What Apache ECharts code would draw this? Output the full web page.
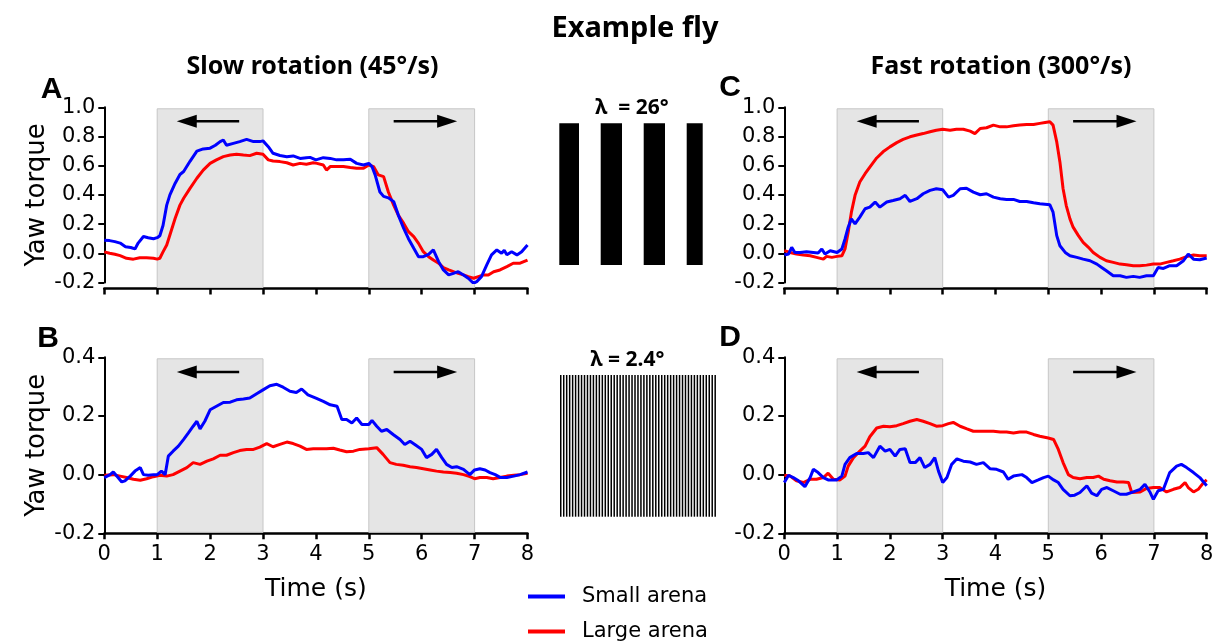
<!DOCTYPE html>
<html><head><meta charset="utf-8">
<script src="https://cdn.jsdelivr.net/npm/echarts@6/dist/echarts.min.js"></script>
<style>html,body{margin:0;padding:0;background:#fff}#c{width:1217px;height:642px}</style>
</head><body><div id="c"></div>
<script>
// ---- data: [time (s), yaw torque] ----
const slowLargeSmall = [[0,0.09],[0.1,0.087],[0.2,0.08],[0.3,0.07],[0.4,0.045],[0.5,0.04],[0.58,0.03],[0.64,0.07],[0.74,0.115],[0.83,0.107],[0.93,0.1],[1.0,0.107],[1.05,0.12],[1.11,0.19],[1.18,0.33],[1.24,0.4],[1.34,0.48],[1.43,0.54],[1.5,0.56],[1.62,0.63],[1.75,0.7],[1.87,0.715],[2.0,0.72],[2.1,0.74],[2.19,0.765],[2.25,0.776],[2.31,0.74],[2.44,0.753],[2.56,0.765],[2.69,0.78],[2.82,0.765],[2.94,0.765],[3.0,0.77],[3.1,0.73],[3.19,0.685],[3.32,0.67],[3.45,0.662],[3.57,0.667],[3.7,0.65],[3.82,0.655],[3.89,0.657],[4.0,0.64],[4.14,0.655],[4.27,0.65],[4.39,0.64],[4.52,0.64],[4.65,0.644],[4.77,0.616],[4.9,0.605],[5.0,0.616],[5.06,0.594],[5.12,0.537],[5.21,0.42],[5.28,0.39],[5.37,0.38],[5.47,0.354],[5.56,0.26],[5.66,0.17],[5.75,0.1],[5.85,0.034],[5.94,-0.023],[6.03,-0.023],[6.13,-0.007],[6.22,0.023],[6.32,-0.057],[6.41,-0.114],[6.51,-0.148],[6.6,-0.137],[6.69,-0.126],[6.79,-0.148],[6.88,-0.171],[6.98,-0.205],[7.04,-0.194],[7.13,-0.16],[7.23,-0.08],[7.32,-0.011],[7.42,0.023],[7.51,0.0],[7.56,0.02],[7.61,-0.01],[7.7,0.011],[7.8,-0.011],[7.89,0.011],[8.0,0.057]];
const slowLargeLarge = [[0,0.01],[0.1,0.0],[0.2,-0.007],[0.3,-0.016],[0.42,-0.034],[0.55,-0.04],[0.67,-0.03],[0.8,-0.03],[0.93,-0.034],[1.0,-0.04],[1.05,-0.034],[1.11,0.01],[1.18,0.057],[1.24,0.125],[1.34,0.24],[1.43,0.33],[1.5,0.377],[1.62,0.445],[1.75,0.514],[1.87,0.57],[2.0,0.616],[2.12,0.64],[2.25,0.662],[2.38,0.673],[2.5,0.678],[2.63,0.673],[2.75,0.669],[2.88,0.685],[3.0,0.678],[3.1,0.64],[3.19,0.632],[3.32,0.628],[3.45,0.62],[3.57,0.605],[3.7,0.616],[3.82,0.61],[3.95,0.62],[4.02,0.616],[4.14,0.605],[4.2,0.57],[4.27,0.594],[4.39,0.594],[4.52,0.594],[4.65,0.587],[4.77,0.582],[4.9,0.582],[5.0,0.605],[5.09,0.594],[5.18,0.537],[5.28,0.525],[5.37,0.42],[5.47,0.33],[5.56,0.26],[5.66,0.205],[5.75,0.148],[5.85,0.114],[5.94,0.068],[6.03,0.011],[6.13,-0.023],[6.22,-0.046],[6.32,-0.068],[6.41,-0.098],[6.51,-0.114],[6.6,-0.126],[6.69,-0.137],[6.79,-0.148],[6.88,-0.16],[6.98,-0.171],[7.07,-0.16],[7.17,-0.148],[7.26,-0.148],[7.36,-0.126],[7.48,-0.114],[7.61,-0.091],[7.73,-0.068],[7.86,-0.068],[8.0,-0.046]];
const slowFineSmall = [[0,-0.01],[0.11,0.0],[0.17,0.009],[0.26,-0.01],[0.33,-0.025],[0.39,-0.021],[0.49,-0.005],[0.58,0.012],[0.68,0.024],[0.74,0.0],[0.83,-0.002],[0.93,0.0],[1.0,0.0],[1.08,0.012],[1.15,0.0],[1.21,0.063],[1.3,0.08],[1.4,0.097],[1.5,0.12],[1.59,0.142],[1.68,0.165],[1.75,0.182],[1.81,0.156],[1.9,0.182],[2.0,0.221],[2.12,0.233],[2.25,0.246],[2.38,0.247],[2.5,0.255],[2.63,0.258],[2.75,0.261],[2.88,0.276],[3.0,0.289],[3.13,0.303],[3.26,0.308],[3.38,0.298],[3.51,0.284],[3.63,0.28],[3.73,0.292],[3.85,0.272],[4.0,0.261],[4.14,0.25],[4.27,0.238],[4.4,0.233],[4.49,0.188],[4.58,0.188],[4.68,0.176],[4.77,0.193],[4.87,0.171],[5.0,0.171],[5.06,0.185],[5.15,0.165],[5.24,0.148],[5.34,0.154],[5.46,0.137],[5.59,0.12],[5.68,0.103],[5.78,0.114],[5.87,0.103],[6.0,0.086],[6.09,0.058],[6.19,0.069],[6.28,0.086],[6.38,0.058],[6.47,0.035],[6.57,0.024],[6.66,0.027],[6.79,0.018],[6.91,0.0],[7.0,0.016],[7.1,0.02],[7.2,0.016],[7.29,0.007],[7.39,0.0],[7.49,-0.01],[7.61,-0.01],[7.74,-0.005],[7.86,0.0],[8.0,0.009]];
const slowFineLarge = [[0,-0.002],[0.17,0.0],[0.3,-0.005],[0.42,-0.01],[0.55,-0.016],[0.68,-0.019],[0.8,-0.014],[0.93,-0.007],[1.05,-0.002],[1.18,-0.005],[1.3,0.0],[1.43,0.012],[1.56,0.024],[1.68,0.041],[1.81,0.035],[1.94,0.046],[2.06,0.054],[2.19,0.066],[2.31,0.066],[2.44,0.075],[2.56,0.082],[2.69,0.086],[2.82,0.086],[2.94,0.094],[3.07,0.106],[3.19,0.095],[3.32,0.103],[3.45,0.111],[3.57,0.106],[3.7,0.097],[3.82,0.086],[3.95,0.088],[4.08,0.088],[4.2,0.088],[4.33,0.09],[4.45,0.084],[4.58,0.078],[4.71,0.08],[4.83,0.086],[5.0,0.088],[5.15,0.092],[5.27,0.069],[5.4,0.041],[5.52,0.035],[5.65,0.032],[5.78,0.027],[5.9,0.024],[6.03,0.02],[6.16,0.016],[6.28,0.012],[6.41,0.009],[6.54,0.007],[6.66,0.005],[6.79,0.0],[6.91,-0.007],[7.0,-0.014],[7.1,-0.01],[7.23,-0.01],[7.35,-0.014],[7.48,-0.01],[7.61,-0.005],[7.74,-0.002],[7.86,0.0],[8.0,0.005]];
const fastLargeSmall = [[0,-0.012],[0.08,-0.005],[0.14,0.041],[0.2,0.006],[0.3,0.006],[0.42,0.011],[0.55,0.006],[0.64,0.002],[0.71,0.03],[0.77,-0.005],[0.87,0.018],[1.0,0.006],[1.09,0.03],[1.15,0.098],[1.21,0.179],[1.27,0.236],[1.34,0.202],[1.43,0.248],[1.53,0.305],[1.62,0.316],[1.72,0.351],[1.81,0.316],[1.94,0.351],[2.06,0.362],[2.19,0.374],[2.29,0.397],[2.38,0.355],[2.51,0.374],[2.63,0.408],[2.76,0.431],[2.88,0.442],[3.0,0.435],[3.11,0.385],[3.2,0.397],[3.33,0.442],[3.45,0.446],[3.58,0.419],[3.71,0.401],[3.83,0.408],[3.96,0.385],[4.09,0.374],[4.21,0.369],[4.34,0.369],[4.46,0.355],[4.59,0.355],[4.72,0.346],[4.84,0.339],[5.03,0.332],[5.09,0.282],[5.16,0.121],[5.22,0.052],[5.32,0.006],[5.41,-0.017],[5.54,-0.028],[5.66,-0.04],[5.79,-0.051],[5.92,-0.074],[6.01,-0.097],[6.1,-0.12],[6.23,-0.154],[6.36,-0.154],[6.48,-0.165],[6.61,-0.158],[6.73,-0.165],[6.86,-0.154],[6.99,-0.154],[7.08,-0.097],[7.18,-0.104],[7.3,-0.085],[7.43,-0.085],[7.56,-0.051],[7.65,-0.005],[7.75,-0.04],[7.87,-0.044],[8.0,-0.032]];
const fastLargeLarge = [[0,0.018],[0.11,0.006],[0.23,-0.005],[0.36,-0.012],[0.49,-0.017],[0.61,-0.028],[0.74,-0.04],[0.8,-0.021],[0.9,-0.028],[1.0,-0.021],[1.09,-0.017],[1.15,0.03],[1.21,0.144],[1.27,0.28],[1.34,0.397],[1.43,0.488],[1.53,0.545],[1.62,0.59],[1.75,0.653],[1.87,0.695],[2.0,0.729],[2.13,0.758],[2.25,0.78],[2.38,0.798],[2.51,0.81],[2.63,0.82],[2.76,0.832],[2.88,0.843],[3.0,0.85],[3.14,0.843],[3.26,0.85],[3.39,0.85],[3.52,0.837],[3.61,0.82],[3.71,0.855],[3.83,0.86],[3.96,0.878],[4.09,0.866],[4.21,0.866],[4.34,0.873],[4.46,0.878],[4.59,0.882],[4.72,0.882],[4.84,0.89],[4.94,0.896],[5.03,0.901],[5.09,0.878],[5.16,0.763],[5.22,0.626],[5.28,0.442],[5.34,0.327],[5.41,0.236],[5.47,0.179],[5.57,0.121],[5.66,0.075],[5.76,0.041],[5.85,0.006],[5.98,-0.028],[6.1,-0.051],[6.23,-0.062],[6.36,-0.074],[6.48,-0.078],[6.61,-0.085],[6.73,-0.085],[6.86,-0.081],[6.99,-0.074],[7.11,-0.074],[7.24,-0.062],[7.37,-0.051],[7.49,-0.04],[7.62,-0.023],[7.75,-0.012],[7.87,-0.017],[8.0,-0.017]];
const fastFineSmall = [[0,-0.027],[0.08,-0.002],[0.17,-0.01],[0.27,-0.021],[0.39,-0.041],[0.49,-0.01],[0.55,0.018],[0.64,0.007],[0.74,-0.01],[0.83,-0.018],[0.99,-0.018],[1.09,-0.005],[1.15,0.035],[1.24,0.058],[1.37,0.072],[1.5,0.072],[1.59,0.075],[1.69,0.058],[1.81,0.097],[1.91,0.08],[2.0,0.086],[2.1,0.063],[2.19,0.086],[2.29,0.088],[2.38,0.041],[2.48,0.041],[2.57,0.058],[2.66,0.024],[2.76,0.035],[2.85,0.058],[2.92,0.012],[3.0,-0.027],[3.08,-0.01],[3.17,0.035],[3.27,0.054],[3.39,0.046],[3.52,0.043],[3.64,0.035],[3.77,0.041],[3.9,0.02],[4.02,0.018],[4.15,0.009],[4.24,-0.016],[4.34,-0.005],[4.5,0.0],[4.59,-0.01],[4.69,-0.027],[4.81,-0.018],[4.91,-0.01],[5.0,-0.005],[5.1,-0.018],[5.19,-0.027],[5.28,-0.05],[5.41,-0.072],[5.5,-0.07],[5.6,-0.061],[5.73,-0.038],[5.82,-0.063],[5.92,-0.072],[6.01,-0.05],[6.11,-0.044],[6.23,-0.055],[6.36,-0.067],[6.48,-0.067],[6.61,-0.059],[6.74,-0.05],[6.83,-0.033],[6.93,-0.061],[6.99,-0.084],[7.08,-0.055],[7.18,-0.05],[7.3,0.007],[7.43,0.029],[7.52,0.035],[7.62,0.024],[7.75,0.007],[7.87,-0.01],[8.0,-0.038]];
const fastFineLarge = [[0,-0.002],[0.11,-0.005],[0.23,-0.021],[0.36,-0.027],[0.49,-0.016],[0.61,-0.016],[0.74,-0.01],[0.83,0.005],[0.93,-0.016],[1.05,-0.018],[1.15,-0.005],[1.21,0.029],[1.31,0.058],[1.43,0.08],[1.53,0.097],[1.62,0.129],[1.75,0.159],[1.88,0.165],[2.0,0.163],[2.13,0.167],[2.25,0.174],[2.38,0.182],[2.51,0.188],[2.63,0.182],[2.76,0.174],[2.88,0.165],[3.0,0.167],[3.11,0.174],[3.2,0.178],[3.33,0.165],[3.46,0.156],[3.58,0.148],[3.71,0.148],[3.83,0.148],[3.96,0.148],[4.09,0.145],[4.21,0.145],[4.34,0.142],[4.46,0.145],[4.59,0.145],[4.72,0.137],[4.84,0.131],[5.0,0.125],[5.1,0.12],[5.19,0.086],[5.28,0.041],[5.38,0.0],[5.47,-0.01],[5.6,-0.014],[5.73,-0.01],[5.85,-0.01],[5.95,-0.005],[6.05,-0.016],[6.17,-0.021],[6.3,-0.025],[6.42,-0.025],[6.52,-0.027],[6.58,-0.061],[6.74,-0.059],[6.86,-0.047],[6.99,-0.044],[7.11,-0.044],[7.24,-0.059],[7.37,-0.05],[7.49,-0.044],[7.59,-0.027],[7.65,-0.044],[7.75,-0.059],[7.84,-0.05],[7.94,-0.027],[8.0,-0.018]];

// stimulus periods (s) and arrows [tail, tip]
const bandStarts = [1, 5];
const bandEnds = [3, 7];
const arrowTails = [2.55, 5.47];
const arrowTips = [1.37, 6.67];
const arrowLevelWide = 0.905;
const arrowLevelFine = 0.35;
const yTicksWide = [-0.2, 1.0];
const yTicksFine = [-0.2, 0.4];
const seriesNames = ['Small arena', 'Large arena'];

// ---- layout ----
const panels = [
  {grid:{left:104.3, top:107.3, width:423.2, height:175.2}, small:slowLargeSmall, large:slowLargeLarge, yr:yTicksWide, arrowY:arrowLevelWide, off:6, xlab:false, yname:true},
  {grid:{left:104.3, top:357.3, width:423.2, height:176}, small:slowFineSmall, large:slowFineLarge, yr:yTicksFine, arrowY:arrowLevelFine, off:0, xlab:true, yname:true},
  {grid:{left:784.3, top:107.3, width:422.4, height:175.2}, small:fastLargeSmall, large:fastLargeLarge, yr:yTicksWide, arrowY:arrowLevelWide, off:6, xlab:false, yname:false},
  {grid:{left:784.3, top:357.3, width:422.4, height:176}, small:fastFineSmall, large:fastFineLarge, yr:yTicksFine, arrowY:arrowLevelFine, off:0, xlab:true, yname:false}
];
const FONT = 'DejaVu Sans';
const grid = [], xAxis = [], yAxis = [], series = [];
panels.forEach((p, i) => {
  grid.push(Object.assign({containLabel:false}, p.grid));
  xAxis.push({type:'value', gridIndex:i, min:0, max:8, interval:1, offset:p.off,
    axisLine:{onZero:false, lineStyle:{color:'#000', width:2.5}},
    axisTick:{length:6, lineStyle:{color:'#000', width:2.5}},
    axisLabel:{show:p.xlab, fontSize:21, fontFamily:FONT, color:'#000', margin:11},
    splitLine:{show:false},
    name:p.xlab ? 'Time (s)' : '', nameLocation:'middle', nameGap:44,
    nameTextStyle:{fontSize:25, fontFamily:FONT, color:'#000'}});
  yAxis.push({type:'value', gridIndex:i, min:p.yr[0], max:p.yr[1], interval:0.2,
    axisLine:{show:true, onZero:false, lineStyle:{color:'#000', width:2}},
    axisTick:{show:true, length:6, lineStyle:{color:'#000', width:2}},
    axisLabel:{fontSize:21, fontFamily:FONT, color:'#000', margin:9,
      formatter:v => (Math.abs(v) < 1e-9 ? 0 : v).toFixed(1)},
    splitLine:{show:false},
    name:p.yname ? 'Yaw torque' : '', nameLocation:'middle', nameGap:50,
    nameTextStyle:{fontSize:26, fontFamily:FONT, color:'#000'}});
  const off = p.off;
  series.push({type:'custom', xAxisIndex:i, yAxisIndex:i, z:1, silent:true,
    encode:{x:[0,1], y:[2,3]},
    data:bandStarts.map((s, k) => [s, bandEnds[k], p.yr[1], p.yr[0]]),
    renderItem:(params, api) => {
      const a = api.coord([api.value(0), api.value(2)]);
      const b = api.coord([api.value(1), api.value(3)]);
      return {type:'rect', shape:{x:a[0], y:a[1] + 1.5, width:b[0] - a[0], height:b[1] - a[1] - 1.5 + off - 1},
        style:{fill:'#e5e5e5', stroke:'#c6c6c6', lineWidth:1}};
    }});
  series.push({type:'custom', xAxisIndex:i, yAxisIndex:i, z:2, silent:true,
    encode:{x:[0,1], y:2},
    data:arrowTails.map((t, k) => [t, arrowTips[k], p.arrowY]),
    renderItem:(params, api) => {
      const a = api.coord([api.value(0), api.value(2)]);
      const b = api.coord([api.value(1), api.value(2)]);
      const d = b[0] > a[0] ? 1 : -1, hl = 20, hw = 6.5;
      return {type:'group', children:[
        {type:'line', shape:{x1:a[0], y1:a[1], x2:b[0] - d * hl + d, y2:b[1]}, style:{stroke:'#000', lineWidth:2.5}},
        {type:'polygon', shape:{points:[[b[0], b[1]], [b[0] - d * hl, b[1] - hw], [b[0] - d * hl, b[1] + hw]]}, style:{fill:'#000'}}
      ]};
    }});
  series.push({type:'line', name:seriesNames[1], xAxisIndex:i, yAxisIndex:i, data:p.large, showSymbol:false, symbol:'none',
    lineStyle:{color:'#ff0000', width:3}, itemStyle:{color:'#ff0000'}, z:3});
  series.push({type:'line', name:seriesNames[0], xAxisIndex:i, yAxisIndex:i, data:p.small, showSymbol:false, symbol:'none',
    lineStyle:{color:'#0000ff', width:3}, itemStyle:{color:'#0000ff'}, z:4});
});

const graphic = [];
const txt = (x, y, text, font) => graphic.push({type:'text', x:x, y:y, silent:true,
  style:{text:text, font:font, fill:'#000', align:'center', verticalAlign:'middle'}});
txt(635, 29, 'Example fly', 'bold 29px "Noto Sans"');
txt(312.5, 67, 'Slow rotation (45°/s)', 'bold 25px "Noto Sans"');
txt(1001, 67, 'Fast rotation (300°/s)', 'bold 25px "Noto Sans"');
txt(51.5, 89.5, 'A', 'bold 30px "Liberation Sans"');
txt(48, 338.5, 'B', 'bold 30px "Liberation Sans"');
txt(730, 88, 'C', 'bold 30px "Liberation Sans"');
txt(730, 337.5, 'D', 'bold 30px "Liberation Sans"');
txt(632, 108.5, 'λ  = 26°', 'bold 21px "Noto Sans"');
txt(627.5, 360, 'λ = 2.4°', 'bold 21px "Noto Sans"');
// wide grating illustration
[[559.3, 19.7], [600.7, 21.3], [643.7, 21.3], [686.7, 16]].forEach(b => graphic.push({type:'rect', silent:true,
  shape:{x:b[0], y:123.3, width:b[1], height:141.7}, style:{fill:'#000'}}));
// fine grating illustration
for (let k = 0; k < 53; k++) graphic.push({type:'rect', silent:true,
  shape:{x:560 + k * 2.97, y:375, width:1.5, height:141.7}, style:{fill:'#000'}});

const legendBase = {left:528, itemWidth:37, itemHeight:4, icon:'rect', selectedMode:false, padding:0,
  textStyle:{fontSize:21, fontFamily:FONT, color:'#000', padding:[0,0,0,12]}};
const chart = echarts.init(document.getElementById('c'), null, {renderer:'canvas'});
chart.setOption({
  backgroundColor:'#fff', animation:false,
  grid, xAxis, yAxis, series, graphic,
  legend:[
    Object.assign({}, legendBase, {data:[seriesNames[0]], top:586}),
    Object.assign({}, legendBase, {data:[seriesNames[1]], top:621})
  ]
});
</script></body></html>
